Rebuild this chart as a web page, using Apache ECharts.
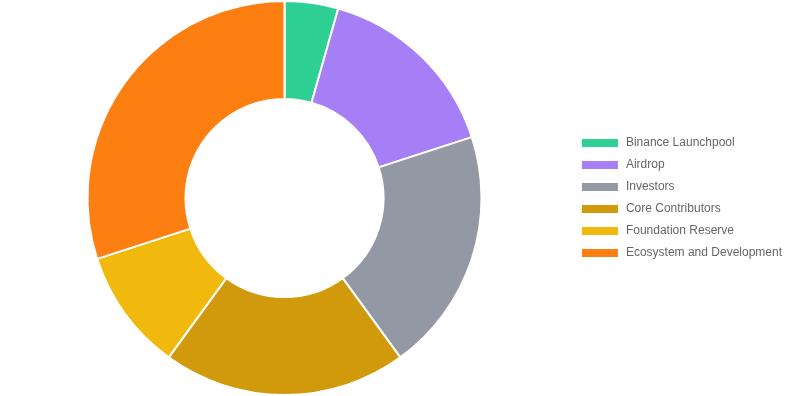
<!DOCTYPE html>
<html><head><meta charset="utf-8">
<script src="https://cdn.jsdelivr.net/npm/echarts@6/dist/echarts.min.js"></script>
<style>html,body{margin:0;padding:0;background:#fff}#c{width:792px;height:396px}</style>
</head><body><div id="c"></div>
<script>
const categories = ["Binance Launchpool","Airdrop","Investors","Core Contributors","Foundation Reserve","Ecosystem and Development"];
const values = [4.4, 15.6, 20, 20, 10, 30];
const colors = ["#2ed193","#a67ff6","#9299a4","#d09a0c","#f1b90d","#fd7f12"];
const chart = echarts.init(document.getElementById('c'));
chart.setOption({
  animation: false,
  color: colors,
  legend: {
    orient: 'vertical', right: 5, top: 'middle',
    itemWidth: 38, itemHeight: 10, itemGap: 10,
    textStyle: { color: '#666', fontSize: 12, fontFamily: 'Arial, Liberation Sans, sans-serif', padding: [0,0,0,2] },
    icon: 'rect',
    data: categories
  },
  series: [{
    type: 'pie',
    center: [284.5, 198],
    radius: [99, 197],
    startAngle: 90,
    clockwise: true,
    label: { show: false },
    labelLine: { show: false },
    itemStyle: { borderColor: '#fff', borderWidth: 2 },
    data: categories.map((n, i) => ({ name: n, value: values[i] }))
  }]
});
</script></body></html>
